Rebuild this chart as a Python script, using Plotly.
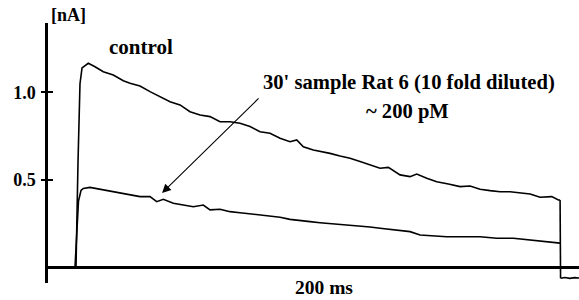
import plotly.graph_objects as go

# ---- data (time in ms, current in nA) ----
baseline_t = [-11.1, -9.0, -7.0, -5.0, -3.0, -1.0, 0.0]
baseline_i = [0.0, 0.004, -0.003, 0.003, -0.004, 0.002, 0.0]

control_t = [0.0, 0.41, 1.24, 2.06, 2.9, 5.48, 8.25, 11.67, 15.79, 19.92, 22.68, 26.80,
             30.93, 35.05, 39.18, 43.30, 47.42, 51.55, 55.67, 59.79, 63.92, 68.04, 72.16,
             76.29, 80.41, 84.54, 88.66, 91.42, 94.14, 98.27, 102.39, 105.15, 109.28,
             113.40, 117.53, 121.65, 125.77, 129.20, 134.02, 138.14, 140.91, 145.03,
             149.15, 153.94, 158.76, 162.89, 167.01, 171.13, 175.26, 179.38, 183.51,
             187.63, 191.75, 196.58, 199.30, 200.0]
control_i = [0.0, 0.0, 0.60, 1.05, 1.14, 1.167, 1.147, 1.119, 1.10, 1.067, 1.053, 1.037,
             1.005, 0.976, 0.947, 0.929, 0.89, 0.871, 0.862, 0.833, 0.833, 0.824, 0.805,
             0.776, 0.767, 0.738, 0.719, 0.729, 0.69, 0.671, 0.662, 0.652, 0.637,
             0.624, 0.605, 0.586, 0.567, 0.572, 0.529, 0.519, 0.534, 0.51,
             0.49, 0.477, 0.462, 0.466, 0.447, 0.439, 0.433, 0.433, 0.427,
             0.42, 0.401, 0.405, 0.386, 0.386]

sample_t = [0.0, 0.62, 1.44, 2.47, 3.42, 6.19, 10.31, 14.43, 18.56, 22.68, 26.80, 30.93,
            33.69, 36.41, 40.54, 44.66, 48.78, 52.91, 55.67, 59.79, 63.92, 68.04, 72.16,
            76.29, 80.41, 84.54, 88.66, 92.78, 96.91, 101.03, 104.45, 109.28, 121.65,
            125.77, 138.14, 142.27, 153.28, 167.01, 173.90, 180.74, 187.63, 195.88,
            198.64, 200.0]
sample_i = [0.0, 0.20, 0.38, 0.44, 0.452, 0.458, 0.447, 0.439, 0.424, 0.414, 0.405, 0.405,
            0.376, 0.39, 0.367, 0.357, 0.347, 0.357, 0.329, 0.333, 0.319, 0.313, 0.306,
            0.30, 0.29, 0.287, 0.275, 0.267, 0.262, 0.256, 0.252, 0.249, 0.231,
            0.224, 0.205, 0.186, 0.176, 0.176, 0.167, 0.167, 0.157, 0.147,
            0.139, 0.139]

drop_t = [200.0, 200.2]
drop_i = [0.386, -0.062]

tail_t = [200.2, 202.0, 204.0, 206.0, 207.8]
tail_i = [-0.062, -0.057, -0.062, -0.058, -0.06]

ytick_vals = [0.5, 1.0]
ytick_text = ["0.5", "1.0"]

# ---- layout geometry ----
W, H = 579, 300
ML, MR, MT, MB = 48, 0, 23, 17
PW, PH = W - ML - MR, H - MT - MB
XR = [-11.13, 207.8]
YR = [-0.0886, 1.397]

def px(xp):
    return (xp - ML) / PW

def py(yp):
    return (H - MB - yp) / PH

FONT = "Liberation Serif, Times New Roman, serif"

fig = go.Figure()
line = dict(color="black", width=1.6)
for tx, iy in [(baseline_t, baseline_i), (control_t, control_i), (drop_t, drop_i),
               (sample_t, sample_i), (tail_t, tail_i)]:
    fig.add_trace(go.Scatter(x=tx, y=iy, mode="lines", line=line, showlegend=False,
                             cliponaxis=False, hoverinfo="skip"))

annots = [
    dict(text="[nA]", x=px(68), y=py(15), size=18),
    dict(text="control", x=px(141), y=py(47), size=21),
    dict(text="30' sample Rat 6 (10 fold diluted)", x=px(409), y=py(83), size=20.6),
    dict(text="~ 200 pM", x=px(407), y=py(111), size=20.6),
    dict(text="200 ms", x=px(324), y=py(287), size=19.5),
]
for a in annots:
    fig.add_annotation(text="<b>%s</b>" % a["text"], x=a["x"], y=a["y"], xref="paper",
                       yref="paper", showarrow=False, xanchor="center", yanchor="middle",
                       font=dict(family=FONT, size=a["size"], color="black"))

# arrow
fig.add_annotation(x=35.9, y=0.426, xref="x", yref="y", ax=98, ay=-96, text="",
                   showarrow=True, arrowhead=2, arrowsize=1.6, arrowwidth=1.1,
                   arrowcolor="black")

fig.update_layout(
    width=W, height=H, margin=dict(l=ML, r=MR, t=MT, b=MB, autoexpand=False),
    paper_bgcolor="white", plot_bgcolor="white",
    xaxis=dict(range=XR, visible=False, automargin=False),
    yaxis=dict(range=YR, showgrid=False, zeroline=True, zerolinecolor="black",
               zerolinewidth=3, showline=True, linecolor="black", linewidth=2.5,
               automargin=False,
               tickmode="array", tickvals=ytick_vals, ticktext=["<b>%s</b>" % t for t in ytick_text],
               ticks="outside", ticklen=4, tickwidth=2, tickcolor="black",
               ticklabelstandoff=2,
               tickfont=dict(family=FONT, size=18, color="black"),
               minor=dict(ticks="inside", tickvals=ytick_vals, ticklen=5, tickwidth=2,
                          tickcolor="black", showgrid=False)),
)
fig.write_html("out.html", config={"displayModeBar": False},
               post_script="document.body.style.margin='0';document.body.style.overflow='hidden';")
